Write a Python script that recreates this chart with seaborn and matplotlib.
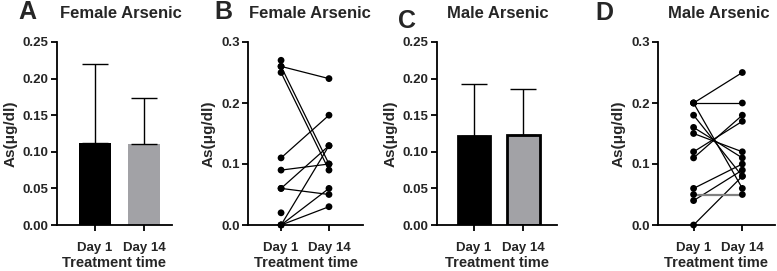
import numpy as np
import pandas as pd
import matplotlib
matplotlib.use('Agg')
import matplotlib.pyplot as plt
import seaborn as sns

# ---- data ----
days = ['Day 1', 'Day 14']

female_mean = [0.112, 0.111]
female_sd = [0.108, 0.063]
male_mean = [0.122, 0.123]
male_sd = [0.071, 0.063]

# paired values per animal (nan = no partner point)
female_day1 = [0.27, 0.26, 0.26, 0.25, 0.11, 0.09, 0.06, 0.06, 0.02, 0.00, 0.00, 0.00]
female_day14 = [np.nan, 0.24, 0.10, 0.09, 0.18, 0.10, 0.13, 0.05, np.nan, 0.13, 0.06, 0.03]

male_day1 = [0.20, 0.20, 0.20, 0.18, 0.16, 0.15, 0.12, 0.11, 0.06, 0.05, 0.04, 0.00]
male_day14 = [0.25, 0.20, 0.06, 0.08, 0.11, 0.12, 0.17, 0.18, 0.10, 0.05, 0.09, 0.08]
male_link = ['black'] * 9 + ['gray'] + ['black'] * 2

bar_colors = ['#000000', '#A2A2A6']

# ---- style ----
sns.set_style('ticks')
plt.rcParams['font.family'] = ['Liberation Sans', 'DejaVu Sans']
plt.rcParams['font.weight'] = 'bold'
plt.rcParams['axes.edgecolor'] = 'black'

W, H = 777, 271
fig = plt.figure(figsize=(W / 100, H / 100), dpi=100)


def px_axes(left, right, top=42, bottom=225):
    return fig.add_axes([left / W, (H - bottom) / H, (right - left) / W, (bottom - top) / H])


def style_axis(ax, xlim, ylim, yticks, fmt):
    ax.set_xlim(xlim)
    ax.set_ylim(ylim)
    ax.set_yticks(yticks)
    ax.set_yticklabels([fmt.format(v) for v in yticks], fontsize=9.5, fontweight='bold')
    ax.set_xticks(range(len(days)))
    ax.set_xticklabels(days, fontsize=9.5, fontweight='bold')
    sns.despine(ax=ax)
    for s in ['left', 'bottom']:
        ax.spines[s].set_linewidth(1.3)
        ax.spines[s].set_color('black')
    ax.tick_params(width=1.3, length=4, color='black', pad=2)
    ax.tick_params(axis='x', pad=8)
    ax.set_xlabel('Treatment time', fontsize=10.5, fontweight='bold', labelpad=2)
    ax.set_ylabel('As(μg/dl)', fontsize=11, fontweight='bold', labelpad=4)


def bar_panel(ax, mean, sd, edge):
    df = pd.DataFrame({'time': days, 'mean': mean})
    sns.barplot(data=df, x='time', y='mean', hue='time', palette=bar_colors,
                width=0.67, legend=False, ax=ax, saturation=1,
                edgecolor='black', linewidth=edge)
    ax.errorbar(np.arange(len(days)), mean, yerr=[np.zeros(len(sd)), sd],
                fmt='none', ecolor='black', elinewidth=1, capsize=9.5,
                capthick=1, zorder=1)


def pair_panel(ax, d1, d14, link):
    rows = []
    for i, (a, b) in enumerate(zip(d1, d14)):
        rows.append((i, days[0], a, link[i]))
        rows.append((i, days[1], b, link[i]))
    long = pd.DataFrame(rows, columns=['subject', 'time', 'value', 'link']).dropna()
    sns.lineplot(data=long, x='time', y='value', units='subject', estimator=None,
                 hue='link', palette={'black': 'black', 'gray': '#808080'},
                 linewidth=0.9, legend=False, ax=ax, sort=False)
    # gray link drawn a bit thicker
    for ln in ax.get_lines():
        if ln.get_color() == '#808080':
            ln.set_linewidth(1.6)
    sns.scatterplot(data=long, x='time', y='value', color='black', s=24,
                    edgecolor='none', zorder=3, clip_on=False, ax=ax)


# A
axA = px_axes(57, 172)
bar_panel(axA, female_mean, female_sd, 0)
style_axis(axA, (-0.776, 1.57), (0, 0.25), [0, 0.05, 0.10, 0.15, 0.20, 0.25], '{:.2f}')

# B
axB = px_axes(248, 363)
pair_panel(axB, female_day1, female_day14, ['black'] * len(female_day1))
style_axis(axB, (-0.69, 1.71), (0, 0.3), [0, 0.1, 0.2, 0.3], '{:.1f}')

# C
axC = px_axes(437, 557)
bar_panel(axC, male_mean, male_sd, 2)
style_axis(axC, (-0.755, 1.69), (0, 0.25), [0, 0.05, 0.10, 0.15, 0.20, 0.25], '{:.2f}')

# D
axD = px_axes(658, 775)
pair_panel(axD, male_day1, male_day14, male_link)
style_axis(axD, (-0.73, 1.67), (0, 0.3), [0, 0.1, 0.2, 0.3], '{:.1f}')

# panel letters and titles
for letter, x, y in [('A', 27, 12), ('B', 223, 12), ('C', 407, 21), ('D', 604, 13)]:
    fig.text(x / W, 1 - y / H, letter, fontsize=18, fontweight='bold', ha='center', va='center')
for title, x in [('Female Arsenic', 121), ('Female Arsenic', 310), ('Male Arsenic', 498), ('Male Arsenic', 719)]:
    fig.text(x / W, 1 - 13 / H, title, fontsize=12, fontweight='bold', ha='center', va='center')

fig.savefig('out.png', dpi=100)
